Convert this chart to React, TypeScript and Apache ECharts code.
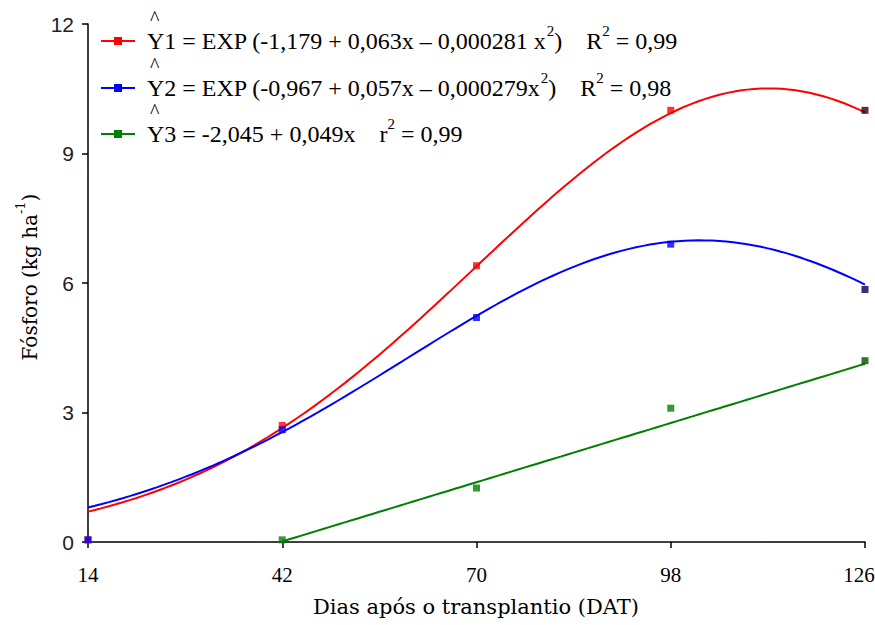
import React, { useEffect, useRef } from "react";
import * as echarts from "echarts";

// Sampling days (DAT) and observed phosphorus accumulation (kg ha-1)
const DAYS = [14, 42, 70, 98, 126];
const Y1_OBS = [0.05, 2.7, 6.4, 10.0, 10.0];
const Y2_OBS = [0.05, 2.6, 5.2, 6.9, 5.85];
const Y3_DAYS = [42, 70, 98, 126];
const Y3_OBS = [0.05, 1.25, 3.1, 4.2];

// Regression coefficients printed in the legend
const Y1_COEF = [-1.179, 0.063, -0.000281]; // exponential-quadratic
const Y2_COEF = [-0.967, 0.057, -0.000279]; // exponential-quadratic
const Y3_COEF = [-2.045, 0.049]; // linear

const Y_TICKS = [0, 3, 6, 9, 12];
const X_TICKS = [14, 42, 70, 98, 126];

const COLORS = ["#ff0000", "#0000ff", "#008000"];
const END_MARK = ["#300000", "#000050", "#005000"];

const LEGEND_TEXT = [
  "{b|Y1 = EXP (-1,179 + 0,063x – 0,000281 x}{s|2}{b|)    R}{s|2}{b| = 0,99}",
  "{b|Y2 = EXP (-0,967 + 0,057x – 0,000279x}{s|2}{b|)    R}{s|2}{b| = 0,98}",
  "{b|Y3 = -2,045 + 0,049x    r}{s|2}{b| = 0,99}",
];

const expQuad = (c: number[], x: number) => Math.exp(c[0] + c[1] * x + c[2] * x * x);
const linear = (c: number[], x: number) => c[0] + c[1] * x;

function curve(from: number, to: number, f: (x: number) => number) {
  const pts: number[][] = [];
  for (let x = from; x <= to; x += 1) pts.push([x, f(x)]);
  return pts;
}

export default function App() {
  const ref = useRef<HTMLDivElement>(null);

  useEffect(() => {
    if (!ref.current) return;
    const chart = echarts.init(ref.current, null, { renderer: "svg" });

    const serif = "'Liberation Serif', 'Times New Roman', serif";
    const wideSerif = "'DejaVu Serif', serif";
    const sans = "'Liberation Sans', Arial, sans-serif";

    const obs = (xs: number[], ys: number[], i: number) =>
      xs.map((x, k) => ({
        value: [x, ys[k]],
        itemStyle: { color: x === 126 ? END_MARK[i] : COLORS[i] },
      }));

    const rowY = [41, 88, 134];
    const legendItems: any[] = [];
    rowY.forEach((y, i) => {
      legendItems.push({
        type: "line",
        shape: { x1: 101, y1: y, x2: 135, y2: y },
        style: { stroke: COLORS[i], lineWidth: 2 },
      });
      legendItems.push({
        type: "rect",
        shape: { x: 114, y: y - 4, width: 8, height: 8 },
        style: { fill: COLORS[i] },
      });
      legendItems.push({
        type: "text",
        x: 150,
        y: y - 33,
        style: { text: "^", font: `20px ${serif}`, fill: "#000", align: "left", verticalAlign: "top" },
      });
      legendItems.push({
        type: "text",
        x: 147,
        y: y - 3,
        style: {
          text: LEGEND_TEXT[i],
          align: "left",
          verticalAlign: "middle",
          rich: {
            b: { fontFamily: serif, fontSize: 24, lineHeight: 30, color: "#000", verticalAlign: "bottom" },
            s: { fontFamily: serif, fontSize: 15, lineHeight: 30, color: "#000", verticalAlign: "top" },
          },
        },
      });
    });

    const lastX = X_TICKS[X_TICKS.length - 1];

    chart.setOption({
      animation: false,
      backgroundColor: "#ffffff",
      grid: { left: 88, right: 10, top: 24, bottom: 83, outerBoundsMode: "none" },
      xAxis: {
        type: "value",
        min: 14,
        max: 126,
        splitLine: { show: false },
        axisLine: { lineStyle: { color: "#000", width: 1.5 } },
        axisTick: { length: 6, lineStyle: { color: "#000", width: 1.5 }, customValues: X_TICKS },
        axisLabel: {
          customValues: X_TICKS,
          margin: 22,
          color: "#000",
          fontFamily: serif,
          fontSize: 21,
          formatter: (v: number) => (v === lastX ? `{e|${v}}` : String(v)),
          rich: {
            e: { fontFamily: serif, fontSize: 21, color: "#000", padding: [0, 12, 0, 0] },
          },
        },
      },
      yAxis: {
        type: "value",
        min: 0,
        max: 12,
        interval: 3,
        splitLine: { show: false },
        axisLine: { show: true, lineStyle: { color: "#000", width: 1.5 } },
        axisTick: { show: true, length: 6, lineStyle: { color: "#000", width: 1.5 } },
        axisLabel: {
          margin: 14,
          color: "#222",
          fontFamily: sans,
          fontSize: 21,
          formatter: (v: number) => (Y_TICKS.includes(v) ? String(v) : ""),
        },
      },
      graphic: [
        {
          type: "text",
          x: 476,
          y: 607,
          style: {
            text: "Dias após o transplantio (DAT)",
            font: `21px ${wideSerif}`,
            fill: "#000",
            align: "center",
            verticalAlign: "middle",
          },
        },
        {
          type: "text",
          x: 27,
          y: 277,
          rotation: Math.PI / 2,
          style: {
            text: "{b|Fósforo (kg ha}{s|-1}{b|)}",
            align: "center",
            verticalAlign: "middle",
            rich: {
              b: { fontFamily: wideSerif, fontSize: 20, lineHeight: 26, color: "#000", verticalAlign: "bottom" },
              s: { fontFamily: wideSerif, fontSize: 13, lineHeight: 26, color: "#000", verticalAlign: "top" },
            },
          },
        },
        ...legendItems,
      ],
      series: [
        {
          type: "line",
          data: curve(14, 126, (x) => expQuad(Y1_COEF, x)),
          showSymbol: false,
          lineStyle: { color: COLORS[0], width: 2 },
          z: 2,
        },
        {
          type: "line",
          data: curve(14, 126, (x) => expQuad(Y2_COEF, x)),
          showSymbol: false,
          lineStyle: { color: COLORS[1], width: 2 },
          z: 2,
        },
        {
          type: "line",
          data: curve(42, 126, (x) => linear(Y3_COEF, x)),
          showSymbol: false,
          lineStyle: { color: COLORS[2], width: 2 },
          z: 2,
        },
        { type: "scatter", symbol: "rect", symbolSize: 7, data: obs(DAYS, Y1_OBS, 0), z: 3 },
        { type: "scatter", symbol: "rect", symbolSize: 7, data: obs(DAYS, Y2_OBS, 1), z: 3 },
        { type: "scatter", symbol: "rect", symbolSize: 7, data: obs(Y3_DAYS, Y3_OBS, 2), z: 3 },
      ],
    });

    return () => chart.dispose();
  }, []);

  return (
    <div
      ref={ref}
      style={{ position: "fixed", left: 0, top: 0, width: 875, height: 625, background: "#fff" }}
    />
  );
}
